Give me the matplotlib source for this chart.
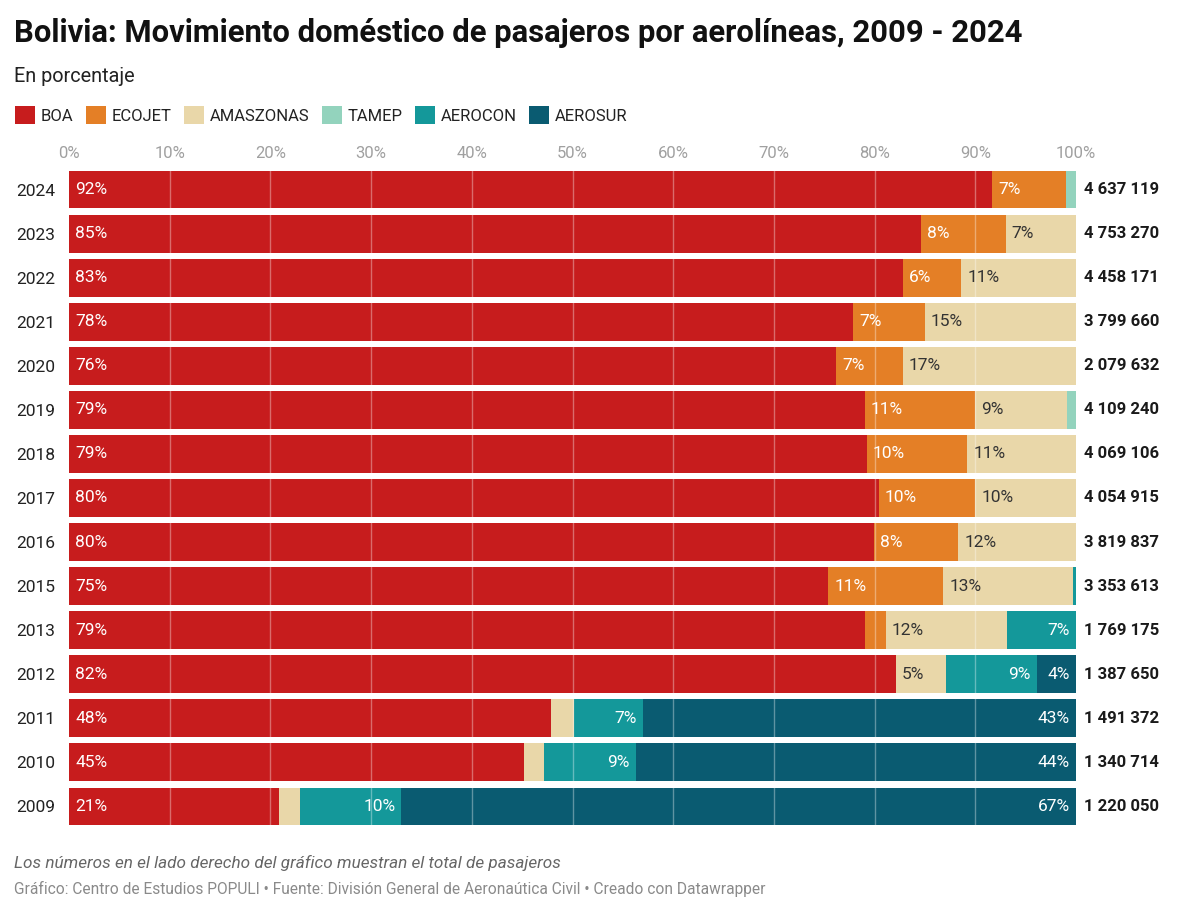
import numpy as np
import matplotlib
matplotlib.use("Agg")
import matplotlib.pyplot as plt
from matplotlib.patches import Patch

plt.rcParams['font.family'] = ['Roboto', 'DejaVu Sans']

years = ["2024", "2023", "2022", "2021", "2020", "2019", "2018", "2017",
         "2016", "2015", "2013", "2012", "2011", "2010", "2009"]
boa = [91.7, 84.6, 82.8, 77.9, 76.2, 79.0, 79.2, 80.4, 79.9, 75.4, 79.0, 82.1, 47.9, 45.2, 20.9]
ecojet = [7.3, 8.4, 5.8, 7.1, 6.6, 11.0, 10.0, 9.6, 8.4, 11.4, 2.1, 0, 0, 0, 0]
amaszonas = [0, 7.0, 11.4, 15.0, 17.2, 9.1, 10.8, 10.0, 11.7, 12.9, 12.0, 5.0, 2.2, 2.0, 2.0]
tamep = [1.0, 0, 0, 0, 0, 0.9, 0, 0, 0, 0, 0, 0, 0, 0, 0]
aerocon = [0, 0, 0, 0, 0, 0, 0, 0, 0, 0.3, 6.9, 9.0, 6.9, 9.1, 10.1]
aerosur = [0, 0, 0, 0, 0, 0, 0, 0, 0, 0, 0, 3.9, 43.0, 43.7, 67.0]
totals = [4637119, 4753270, 4458171, 3799660, 2079632, 4109240, 4069106, 4054915,
          3819837, 3353613, 1769175, 1387650, 1491372, 1340714, 1220050]

series = [
    ("BOA", boa, "#c71c1d", "white", "left"),
    ("ECOJET", ecojet, "#e47f26", "white", "left"),
    ("AMASZONAS", amaszonas, "#e9d7a9", "#333333", "left"),
    ("TAMEP", tamep, "#93d3bd", "white", "left"),
    ("AEROCON", aerocon, "#14989a", "white", "right"),
    ("AEROSUR", aerosur, "#0a5b71", "white", "right"),
]

fig = plt.figure(figsize=(12, 9.14), dpi=100)
ax = fig.add_axes([69 / 1200, 1 - 828.5 / 914, 1007 / 1200, 661 / 914])

y = np.arange(len(years))
left = np.zeros(len(years))
pad = 0.6
for name, vals, color, tcolor, align in series:
    vals = np.array(vals, dtype=float)
    ax.barh(y, vals, left=left, height=0.86, color=color, zorder=2)
    for i, v in enumerate(vals):
        if v >= 3:
            if align == "left":
                ax.text(left[i] + pad, y[i], f"{round(v)}%", ha="left", va="center",
                        color=tcolor, fontsize=12.5, zorder=4)
            else:
                ax.text(left[i] + v - pad, y[i], f"{round(v)}%", ha="right", va="center",
                        color=tcolor, fontsize=12.5, zorder=4)
    left += vals

# light gridlines on top of the bars
for g in range(10, 100, 10):
    ax.axvline(g, color="white", alpha=0.35, lw=1, zorder=3)

# totals on the right
for i, t in enumerate(totals):
    ax.annotate(f"{t:,}".replace(",", " "), xy=(1, y[i]), xycoords=("axes fraction", "data"),
                xytext=(6, 0), textcoords="offset points", ha="left", va="center",
                fontsize=12, fontweight="bold", color="#1a1a1a")

ax.set_xlim(0, 100)
ax.set_ylim(len(years) - 0.5, -0.5)
ax.set_xticks(range(0, 101, 10))
ax.set_xticklabels([f"{v}%" for v in range(0, 101, 10)])
ax.xaxis.tick_top()
ax.tick_params(axis="x", length=0, pad=5, labelsize=12, labelcolor="#a0a0a0")
ax.set_yticks(y)
ax.set_yticklabels(years)
ax.tick_params(axis="y", length=0, pad=10, labelsize=12.5, labelcolor="#222222")
for s in ax.spines.values():
    s.set_visible(False)

fig.text(14 / 1200, 1 - 33 / 914, "Bolivia: Movimiento doméstico de pasajeros por aerolíneas, 2009 - 2024",
         fontsize=22.3, fontweight="bold", color="#111111", va="center", ha="left")
fig.text(14 / 1200, 1 - 76 / 914, "En porcentaje", fontsize=14.3, color="#222222", va="center", ha="left")

handles = [Patch(facecolor=c, edgecolor="none", label=n) for n, _, c, _, _ in series]
fig.legend(handles=handles, loc="center left", bbox_to_anchor=(8 / 1200, 1 - 115 / 914),
           ncol=6, frameon=False, fontsize=12, handlelength=1.2, handleheight=1.2,
           handletextpad=0.35, columnspacing=0.75, borderaxespad=0, labelcolor="#222222")

fig.text(14 / 1200, 1 - 863 / 914,
         "Los números en el lado derecho del gráfico muestran el total de pasajeros",
         fontsize=12.3, style="italic", color="#666666", va="center", ha="left")
fig.text(14 / 1200, 1 - 889 / 914,
         "Gráfico: Centro de Estudios POPULI • Fuente: División General de Aeronaútica Civil • Creado con Datawrapper",
         fontsize=11.2, color="#8a8a8a", va="center", ha="left")

fig.savefig("out.png", dpi=100, facecolor="white")
